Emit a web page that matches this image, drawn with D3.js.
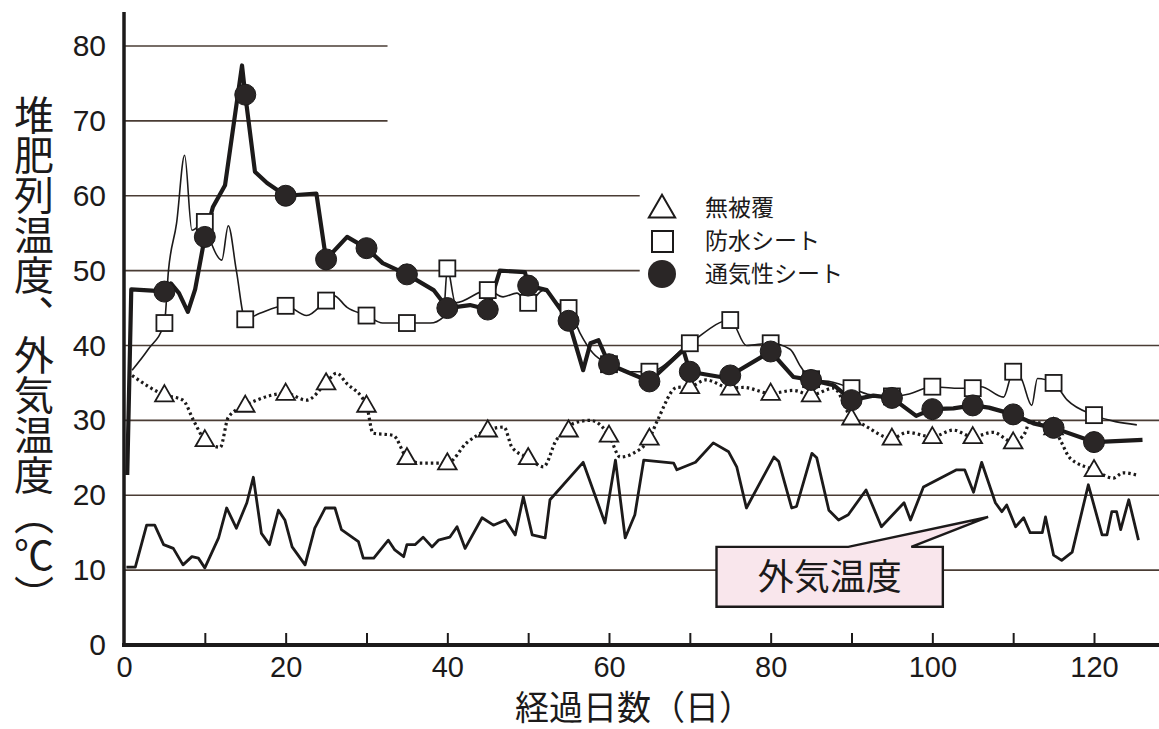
<!DOCTYPE html>
<html>
<head>
<meta charset="utf-8">
<script src="https://cdn.jsdelivr.net/npm/d3@7"></script>
<style>
  html, body { margin: 0; padding: 0; background: #fff; }
  svg { display: block; }
  .tick text { font-family: "Liberation Sans", Arial, sans-serif; }
</style>
</head>
<body>
<svg id="chart" width="1159" height="729"></svg>
<script>
// ---- data ---------------------------------------------------------------
const yTicks = [0, 10, 20, 30, 40, 50, 60, 70, 80];
const xLabelTicks = [0, 20, 40, 60, 80, 100, 120];
const xMinorTicks = [10, 20, 30, 40, 50, 60, 70, 80, 90, 100, 110, 120];

const seriesNames = ["無被覆", "防水シート", "通気性シート"];
const outsideLabel = "外気温度";

// measurement days carrying a marker
const markerDays = [5, 10, 15, 20, 25, 30, 35, 40, 45, 50, 55, 60, 65, 70, 75, 80, 85, 90, 95, 100, 105, 110, 115, 120];

// 無被覆 (uncovered) — dotted line with triangles
const uncoveredLine = [
  [1, 36], [5, 33.4], [7.3, 32.7], [8.6, 30], [10, 27.4], [11.9, 26.4], [12.9, 30.4], [15, 32],
  [16.4, 32.7], [20, 33.6], [22.6, 32.7], [25, 35], [26.3, 36.3], [27.5, 35], [30, 32], [30.8, 28.3],
  [33.3, 28], [35, 25], [36.6, 24.3], [40, 24.3], [42.4, 27], [45, 28.7], [47, 29.1], [48, 26.4],
  [50, 25], [51.9, 23.8], [53.5, 27.4], [55, 28.7], [55.6, 29.6], [57.7, 30], [60, 28], [61.4, 25.1],
  [63, 25.6], [65, 27.6], [66, 30], [68.4, 34.4], [70, 34.5], [72, 35.4], [75, 34.3], [76.6, 34.4],
  [80, 33.6], [82.8, 34], [85, 33.4], [87.8, 34.3], [90, 30.3], [91.5, 29.4], [95, 27.6], [96.9, 28.4],
  [100, 27.8], [102.6, 28.7], [105, 27.8], [107.5, 28.4], [110, 27.1], [111.5, 28.4], [112, 29.8],
  [114, 29.5], [115, 29], [116, 27], [117, 25], [120, 23.4], [122.4, 22.3], [123.6, 23], [125.3, 22.7]
];
const uncoveredMarks = [33.4, 27.4, 32, 33.6, 35, 32, 25, 24.3, 28.7, 25, 28.7, 28, 27.6, 34.5, 34.3, 33.6, 33.4, 30.3, 27.6, 27.8, 27.8, 27.1, 29, 23.4];

// 防水シート (waterproof sheet) — thin line with squares
const waterproofLine = [
  [1, 36.7], [3, 39.5], [5, 43], [5.5, 50], [6.5, 56.3], [7.5, 65.4], [8.4, 55.4], [10, 56.5],
  [10.8, 53.7], [12.1, 51.4], [12.9, 56], [13.9, 50], [15, 43.5], [16.8, 44.3], [20, 45.3], [22.6, 44],
  [25, 46], [25.9, 46.7], [27.6, 45.1], [30, 44], [32, 43], [35, 43], [37.9, 43], [39.5, 43.8],
  [40, 50.3], [41, 45.7], [45, 47.4], [46.9, 46.5], [48.6, 47], [50, 45.7], [51.9, 47.4], [53.5, 45.7],
  [55, 45], [56.4, 41.7], [58, 39], [60, 37.5], [62.6, 36.5], [65, 36.5], [70, 40.3], [75, 43.4],
  [77, 40], [80, 40.3], [82.4, 39.5], [83.7, 37.2], [85, 35.5], [87.7, 35.1], [90, 34.3], [92, 33.5],
  [95, 33.2], [97, 33.5], [100, 34.5], [103, 34.3], [105, 34.3], [106, 34.5], [108.8, 33.1], [110, 36.5],
  [111, 35.6], [112.3, 32], [113, 35.6], [115, 35], [116.7, 32.7], [120, 30.7], [125.3, 29.4]
];
const waterproofMarks = [43, 56.5, 43.5, 45.3, 46, 44, 43, 50.3, 47.4, 45.7, 45, 37.5, 36.5, 40.3, 43.4, 40.3, 35.5, 34.3, 33.2, 34.5, 34.3, 36.5, 35, 30.7];

// 通気性シート (breathable sheet) — thick line with filled circles
const breathableLine = [
  [0.4, 22.7], [0.9, 47.5], [4, 47.3], [5, 47.2], [5.8, 48.3], [6.8, 47], [7.9, 44.5], [8.8, 47.5],
  [10, 54.5], [11, 58.5], [12.5, 61.4], [14.6, 77.4], [15, 73.5], [16.2, 63.2], [17.7, 61.7], [20, 60],
  [23.8, 60.3], [25, 51.5], [27.6, 54.5], [30, 53], [32, 51], [35, 49.5], [38.3, 47.4], [40, 45],
  [42.8, 45.4], [45, 44.8], [46.5, 50], [49.6, 49.8], [50, 48], [52.3, 47.4], [55, 43.3], [56.8, 36.7],
  [57.7, 40.3], [58.7, 40.7], [60, 37.5], [62.6, 36.3], [65, 35.2], [69.2, 39.4], [70, 36.5], [73.8, 35.8],
  [75, 36], [80, 39.2], [82.8, 35.8], [85, 35.4], [87.8, 34.7], [90, 32.7], [92.7, 33.3], [95, 33],
  [98, 30.6], [100, 31.5], [102.6, 31.6], [105, 32], [107, 31.7], [110, 30.8], [112.5, 29.6], [115, 29],
  [120, 27.1], [126, 27.4]
];
const breathableMarks = [47.2, 54.5, 73.5, 60, 51.5, 53, 49.5, 45, 44.8, 48, 43.3, 37.5, 35.2, 36.5, 36, 39.2, 35.4, 32.7, 33, 31.5, 32, 30.8, 29, 27.1];

// 外気温度 (outside air temperature)
const outsideLine = [
  [0.3, 10.4], [1.4, 10.4], [2.8, 16], [3.8, 16], [4.9, 13.4], [6.1, 12.9], [7.3, 10.7], [8.4, 11.8],
  [9.2, 11.6], [10, 10.3], [11.7, 14.3], [12.7, 18.3], [13.9, 15.6], [15.2, 19], [16, 22.4], [17, 14.9],
  [18, 13.4], [19.1, 18], [19.9, 16.7], [20.8, 13.1], [22.4, 10.7], [23.6, 15.6], [24.9, 18.3], [26.1, 18.3],
  [26.9, 15.4], [29, 13.8], [29.6, 11.6], [30.9, 11.6], [32.7, 14], [33.5, 12.7], [34.6, 11.8], [35, 13.4],
  [36, 13.4], [37, 14.4], [38.1, 13.1], [38.9, 14], [40.3, 14.4], [41.2, 15.8], [42.2, 12.9], [44.3, 17],
  [45.7, 16], [47.2, 16.7], [48.4, 14.7], [49.4, 19.8], [50.5, 14.7], [52.1, 14.3], [52.7, 19.4], [56.8, 24.4],
  [59.5, 16.3], [60.8, 24.7], [62, 14.3], [63.2, 17.4], [64.3, 24.7], [68, 24.3], [68.4, 23.4], [70.7, 24.4],
  [72.9, 27], [74.8, 25.8], [75.8, 23.8], [77, 18.3], [80.4, 25.1], [81, 24.5], [82.6, 18.3], [83.2, 18.5],
  [85.1, 25.6], [85.7, 25], [87.2, 18], [88.4, 16.7], [89.6, 17.4], [91.8, 20.7], [93.7, 15.8], [96.5, 19],
  [97.3, 16.7], [98.9, 21.1], [103, 23.4], [104, 23.4], [105.1, 20.4], [106.1, 24.4], [107.8, 19], [108.6, 17.8],
  [109.2, 18.7], [110.3, 15.8], [111.3, 17], [112.1, 15], [113.6, 15], [114, 17.1], [115, 12], [116, 11.3],
  [117.3, 12.4], [119.3, 21.4], [121, 14.7], [121.6, 14.7], [122.2, 17.8], [122.8, 17.8], [123.3, 15.4],
  [124.3, 19.4], [125.5, 14]
];

// ---- scales -------------------------------------------------------------
const W = 1159, H = 729;
const x = d3.scaleLinear().domain([0, 120]).range([124, 1094]);
const y = d3.scaleLinear().domain([0, 80]).range([645, 46]);
const ink = "#1c1a1a";
const gridInk = "#4a3c34";

const svg = d3.select("#chart");
svg.append("rect").attr("width", W).attr("height", H).attr("fill", "#fff");

// horizontal reference lines; the upper ones stop short of the legend area
const gridEndDay = v => (v >= 70 ? 32.6 : v >= 50 ? 63.8 : 130);
svg.append("g").selectAll("line")
  .data(yTicks.filter(v => v > 0))
  .join("line")
  .attr("x1", x(0)).attr("x2", d => Math.min(W, x(gridEndDay(d))))
  .attr("y1", d => y(d)).attr("y2", d => y(d))
  .attr("stroke", gridInk).attr("stroke-width", 1.6);

// y axis
const yAxis = svg.append("g").attr("transform", `translate(${x(0)},0)`)
  .call(d3.axisLeft(y).tickValues(yTicks).tickSize(0).tickPadding(18));
yAxis.select(".domain").remove();
yAxis.selectAll("text").attr("font-size", 30).attr("fill", ink);
svg.append("line").attr("x1", x(0)).attr("x2", x(0)).attr("y1", 12).attr("y2", y(0) + 2)
  .attr("stroke", ink).attr("stroke-width", 3.5);

// x axis: labels every 20 days, tick marks every 10 days pointing up
const xAxis = svg.append("g").attr("transform", `translate(0,${y(0)})`)
  .call(d3.axisBottom(x).tickValues(xLabelTicks).tickSize(0).tickPadding(11));
xAxis.select(".domain").remove();
xAxis.selectAll("text").attr("font-size", 29).attr("fill", ink);
const xTickAxis = svg.append("g").attr("transform", `translate(0,${y(0)})`)
  .call(d3.axisBottom(x).tickValues(xMinorTicks).tickSize(-12).tickFormat(""));
xTickAxis.select(".domain").remove();
xTickAxis.selectAll("line").attr("stroke", ink).attr("stroke-width", 2);
svg.append("line").attr("x1", x(0) - 2).attr("x2", W).attr("y1", y(0)).attr("y2", y(0))
  .attr("stroke", ink).attr("stroke-width", 4);

// axis titles
svg.append("text")
  .attr("x", 34).attr("y", 95)
  .attr("writing-mode", "vertical-rl")
  .attr("font-family", "'Noto Sans CJK JP', sans-serif")
  .attr("font-size", 40).attr("fill", ink)
  .text("堆肥列温度、外気温度（℃）");
svg.append("text")
  .attr("x", 634).attr("y", 720).attr("text-anchor", "middle")
  .attr("font-family", "'Noto Sans CJK JP', sans-serif")
  .attr("font-size", 34).attr("fill", ink)
  .text("経過日数（日）");

// ---- lines --------------------------------------------------------------
const straight = d3.line().x(d => x(d[0])).y(d => y(d[1]));
const smooth = d3.line().x(d => x(d[0])).y(d => y(d[1])).curve(d3.curveMonotoneX);

svg.append("path").datum(outsideLine).attr("d", straight)
  .attr("fill", "none").attr("stroke", ink).attr("stroke-width", 2.8).attr("stroke-linejoin", "round");
svg.append("path").datum(uncoveredLine).attr("d", smooth)
  .attr("fill", "none").attr("stroke", ink).attr("stroke-width", 3.2).attr("stroke-dasharray", "2.5,3");
svg.append("path").datum(waterproofLine).attr("d", smooth)
  .attr("fill", "none").attr("stroke", ink).attr("stroke-width", 1.6).attr("stroke-linejoin", "round");
svg.append("path").datum(breathableLine).attr("d", straight)
  .attr("fill", "none").attr("stroke", ink).attr("stroke-width", 4.2).attr("stroke-linejoin", "round");

// ---- markers ------------------------------------------------------------
const tri = d3.symbol().type(d3.symbolTriangle).size(150);
svg.append("g").selectAll("path")
  .data(markerDays.map((d, i) => [d, uncoveredMarks[i]]))
  .join("path")
  .attr("d", tri)
  .attr("transform", d => `translate(${x(d[0])},${y(d[1]) + 1})`)
  .attr("fill", "#fff").attr("stroke", ink).attr("stroke-width", 1.8);

svg.append("g").selectAll("rect")
  .data(markerDays.map((d, i) => [d, waterproofMarks[i]]))
  .join("rect")
  .attr("x", d => x(d[0]) - 8).attr("y", d => y(d[1]) - 8)
  .attr("width", 16).attr("height", 16)
  .attr("fill", "#fff").attr("stroke", ink).attr("stroke-width", 1.8);

svg.append("g").selectAll("circle")
  .data(markerDays.map((d, i) => [d, breathableMarks[i]]))
  .join("circle")
  .attr("cx", d => x(d[0])).attr("cy", d => y(d[1]))
  .attr("r", 10.5)
  .attr("fill", "#2a2626").attr("stroke", ink).attr("stroke-width", 1);

// ---- legend -------------------------------------------------------------
const lg = svg.append("g").attr("font-family", "'Noto Sans CJK JP', sans-serif").attr("font-size", 23).attr("fill", ink);
const lgX = 662, lgY = [208, 241, 274];
lg.append("path").attr("d", d3.symbol().type(d3.symbolTriangle).size(300))
  .attr("transform", `translate(${lgX},${lgY[0] + 2})`)
  .attr("fill", "#fff").attr("stroke", ink).attr("stroke-width", 2);
lg.append("rect").attr("x", lgX - 10).attr("y", lgY[1] - 10).attr("width", 21).attr("height", 21)
  .attr("fill", "#fff").attr("stroke", ink).attr("stroke-width", 2);
lg.append("circle").attr("cx", lgX).attr("cy", lgY[2]).attr("r", 14).attr("fill", "#2a2626");
lg.selectAll("text").data(seriesNames).join("text")
  .attr("x", 705).attr("y", (d, i) => lgY[i]).attr("dy", "0.35em")
  .text(d => d);

// ---- callout for outside air temperature --------------------------------
const box = { d0: 73.3, d1: 101.3, v0: 5.1, v1: 13.1 };
const tip = [106.9, 17.1];
const wedge = [89.6, 97.4];
const bx0 = x(box.d0), bx1 = x(box.d1), by0 = y(box.v1), by1 = y(box.v0);
svg.append("path")
  .attr("d", `M${bx0},${by0} L${x(wedge[0])},${by0} L${x(tip[0])},${y(tip[1])} L${x(wedge[1])},${by0} L${bx1},${by0} L${bx1},${by1} L${bx0},${by1} Z`)
  .attr("fill", "#f9e6ec").attr("stroke", ink).attr("stroke-width", 2.4).attr("stroke-linejoin", "miter");
svg.append("text")
  .attr("x", (bx0 + bx1) / 2).attr("y", (by0 + by1) / 2).attr("dy", "0.36em")
  .attr("text-anchor", "middle")
  .attr("font-family", "'Noto Sans CJK JP', sans-serif")
  .attr("font-size", 36).attr("fill", ink)
  .text(outsideLabel);
</script>
</body>
</html>
